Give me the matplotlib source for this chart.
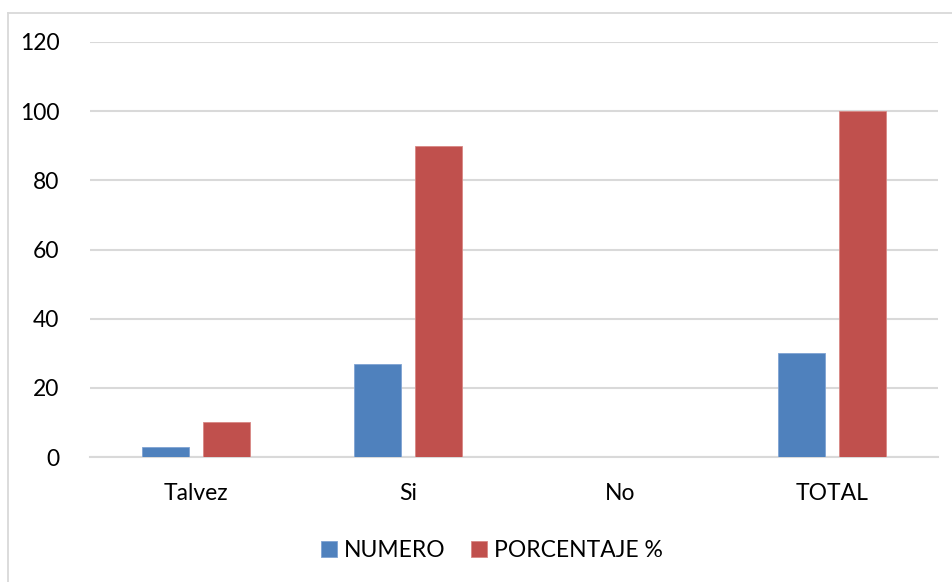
import matplotlib.pyplot as plt
import numpy as np
from matplotlib.lines import Line2D

plt.rcParams['font.family'] = ['Lato', 'DejaVu Sans']

categories = ['Talvez', 'Si', 'No', 'TOTAL']
numero = [3, 27, 0, 30]
porcentaje = [10, 90, 0, 100]

BLUE = '#4F81BD'
RED = '#C0504D'
GRID = '#D9D9D9'

fig = plt.figure(figsize=(9.52, 5.82), dpi=100)
# chart frame: top and left edges only, the rest runs off the canvas
top = 1 - 12.5 / 582
left = 7.5 / 952
fig.lines.append(Line2D([left, 1], [top, top], transform=fig.transFigure,
                        color=GRID, linewidth=1.3))
fig.lines.append(Line2D([left, left], [0, top], transform=fig.transFigure,
                        color=GRID, linewidth=1.3))

ax = fig.add_axes([90 / 952, 1 - 457 / 582, (938 - 90) / 952, (457 - 42) / 582])

x = np.arange(len(categories))
w = 0.222
ax.bar(x - 0.143, numero, w, color=BLUE, edgecolor='#7FA3D3', linewidth=0.6,
       label='NUMERO', zorder=3)
ax.bar(x + 0.143, porcentaje, w, color=RED, edgecolor='#D88784', linewidth=0.6,
       label='PORCENTAJE %', zorder=3)

ax.set_xlim(-0.5, len(categories) - 0.5)
ax.set_ylim(0, 120)
ax.set_yticks(range(0, 121, 20))
ax.set_xticks(x)
ax.set_xticklabels(categories)
ax.yaxis.grid(True, color=GRID, linewidth=1.5, zorder=0)
ax.set_axisbelow(True)
for side in ['top', 'right', 'left']:
    ax.spines[side].set_visible(False)
ax.spines['bottom'].set_color(GRID)
ax.spines['bottom'].set_linewidth(1.5)
ax.tick_params(axis='both', length=0, labelsize=16.5, colors='#000000')
ax.tick_params(axis='y', pad=22)
ax.tick_params(axis='x', pad=19)

ax.legend(loc='center', bbox_to_anchor=(0.474, -0.225), ncol=2, frameon=False,
          fontsize=16.5, handlelength=0.7, handleheight=0.7, handletextpad=0.3,
          columnspacing=1.1)

fig.savefig('out.png', dpi=100)
